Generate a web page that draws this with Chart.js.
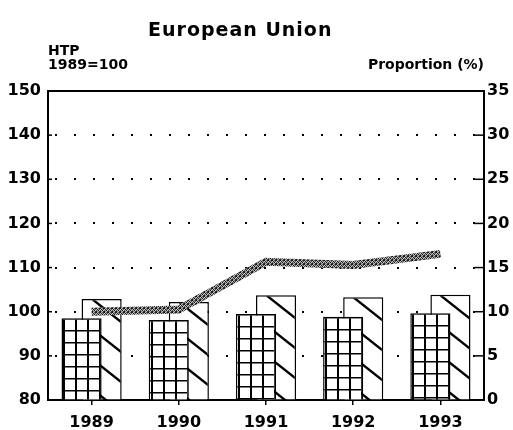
<!DOCTYPE html>
<html>
<head>
<meta charset="utf-8">
<script src="https://cdn.jsdelivr.net/npm/chart.js@4.4.1/dist/chart.umd.min.js"></script>
<style>
    html, body { margin: 0; padding: 0; background: #fff; }
    #wrap { width: 513px; height: 430px; }
</style>
</head>
<body>
<div id="wrap"><canvas id="chart" width="513" height="430"></canvas></div>
<script>
    const years = ['1989', '1990', '1991', '1992', '1993'];
    const htpIndex = [100, 100.5, 111.3, 110.6, 113.1];      // left axis, 1989=100
    const shareGrid = [9.25, 9.06, 9.74, 9.44, 9.82];        // right axis, %
    const shareHatched = [11.44, 11.1, 11.86, 11.63, 11.93]; // right axis, %

    const FONT = 'DejaVu Sans';

    // pattern tiles
    function gridTile() {
        const c = document.createElement('canvas');
        c.width = 12; c.height = 12;
        const g = c.getContext('2d');
        g.fillStyle = '#fff';
        g.fillRect(0, 0, 12, 12);
        g.fillStyle = '#000';
        g.fillRect(0, 0, 2, 12);
        g.fillRect(0, 0, 12, 1.5);
        return c;
    }

    function hatchTile() {
        const c = document.createElement('canvas');
        c.width = 38; c.height = 30;
        const g = c.getContext('2d');
        g.fillStyle = '#fff';
        g.fillRect(0, 0, 38, 30);
        g.strokeStyle = '#000';
        g.lineWidth = 2.4;
        [-30, 0, 30].forEach(dy => {
            g.beginPath();
            g.moveTo(0, dy);
            g.lineTo(38, 30 + dy);
            g.stroke();
        });
        return c;
    }

    function speckle() {
        const c = document.createElement('canvas');
        c.width = 4; c.height = 4;
        const g = c.getContext('2d');
        const cells = [
            '#111', '#bbb', '#666', '#222',
            '#ccc', '#222', '#999', '#555',
            '#555', '#aaa', '#111', '#ccc',
            '#222', '#777', '#bbb', '#333'
        ];
        cells.forEach((col, i) => {
            g.fillStyle = col;
            g.fillRect(i % 4, Math.floor(i / 4), 1, 1);
        });
        return g.createPattern(c, 'repeat');
    }

    const GRID_TILE = gridTile();
    const HATCH_TILE = hatchTile();

    // pattern anchored at the bar's top-left corner
    function barFill(tile, shift) {
        return ctx => {
            const chart = ctx.chart;
            const xs = chart.scales.x;
            const ys = chart.scales.y1;
            if (!xs || !ys || ctx.dataIndex === undefined) return '#fff';
            const xc = xs.getPixelForValue(ctx.dataIndex);
            const top = ys.getPixelForValue(ctx.raw);
            const slot = xs.width / years.length * 0.46 / 2;
            const left = xc + shift * slot - slot;
            const p = chart.ctx.createPattern(tile, 'repeat');
            p.setTransform(new DOMMatrix().translate(Math.round(left), Math.round(top)));
            return p;
        };
    }

    const textPlugin = {
        id: 'texts',
        afterDraw(chart) {
            const ctx = chart.ctx;
            const area = chart.chartArea;
            const yl = chart.scales.y;
            const yr = chart.scales.y1;
            ctx.save();
            // solid top frame
            ctx.strokeStyle = '#000';
            ctx.lineWidth = 2;
            ctx.beginPath();
            ctx.moveTo(area.left, area.top);
            ctx.lineTo(area.right, area.top);
            ctx.stroke();
            // inward tick marks
            ctx.lineWidth = 1.5;
            yl.ticks.forEach(t => {
                const y = yl.getPixelForValue(t.value);
                ctx.beginPath();
                ctx.moveTo(area.left, y);
                ctx.lineTo(area.left + 4, y);
                ctx.stroke();
            });
            yr.ticks.forEach(t => {
                const y = yr.getPixelForValue(t.value);
                ctx.beginPath();
                ctx.moveTo(area.right, y);
                ctx.lineTo(area.right - 10, y);
                ctx.stroke();
            });

            ctx.fillStyle = '#000';
            ctx.textBaseline = 'alphabetic';
            ctx.font = 'bold 19px ' + FONT;
            ctx.letterSpacing = '1px';
            ctx.textAlign = 'left';
            ctx.fillText('European Union', 148, 36);
            ctx.letterSpacing = '0px';
            ctx.font = 'bold 14px ' + FONT;
            ctx.fillText('HTP', area.left, 55);
            ctx.fillText('1989=100', area.left, 69);
            ctx.textAlign = 'right';
            ctx.fillText('Proportion (%)', area.right, 69);
            ctx.restore();
        }
    };

    const tickFont = {family: FONT, size: 16, weight: 'bold'};

    new Chart(document.getElementById('chart'), {
        type: 'bar',
        data: {
            labels: years,
            datasets: [
                {
                    type: 'line',
                    label: 'HTP',
                    data: htpIndex,
                    yAxisID: 'y',
                    order: 0,
                    borderColor: speckle(),
                    borderWidth: 8,
                    borderCapStyle: 'butt',
                    pointRadius: 0,
                    tension: 0,
                    fill: false
                },
                {
                    label: 'Share A',
                    data: shareGrid,
                    yAxisID: 'y1',
                    order: 1,
                    backgroundColor: barFill(GRID_TILE, -1),
                    borderColor: '#000',
                    borderWidth: 1.5,
                    categoryPercentage: 0.46,
                    barPercentage: 2
                },
                {
                    label: 'Share B',
                    data: shareHatched,
                    yAxisID: 'y1',
                    order: 2,
                    backgroundColor: barFill(HATCH_TILE, 1),
                    borderColor: '#000',
                    borderWidth: 1.5,
                    categoryPercentage: 0.46,
                    barPercentage: 2
                }
            ]
        },
        options: {
            responsive: false,
            animation: false,
            layout: {padding: {top: 91, left: 0, right: 0, bottom: 0}},
            plugins: {
                legend: {display: false},
                tooltip: {enabled: false},
                title: {display: false}
            },
            scales: {
                x: {
                    offset: true,
                    afterFit(scale) { scale.height = 30; },
                    grid: {
                        offset: false,
                        drawOnChartArea: false,
                        drawTicks: true,
                        tickLength: 5,
                        color: '#000',
                        lineWidth: 1.5
                    },
                    border: {color: '#000', width: 2},
                    ticks: {color: '#000', font: tickFont, padding: 8, maxRotation: 0}
                },
                y: {
                    position: 'left',
                    min: 80,
                    max: 150,
                    afterFit(scale) { scale.width = 48; },
                    grid: {
                        drawTicks: false,
                        lineWidth: 2,
                        color: ctx => (ctx.tick && (ctx.tick.value === 80 || ctx.tick.value === 150)) ? 'rgba(0,0,0,0)' : '#000'
                    },
                    border: {color: '#000', width: 2, dash: [2, 17], dashOffset: -6},
                    ticks: {stepSize: 10, color: '#000', font: tickFont, padding: 7}
                },
                y1: {
                    position: 'right',
                    min: 0,
                    max: 35,
                    afterFit(scale) { scale.width = 29; },
                    grid: {drawOnChartArea: false, drawTicks: false},
                    border: {color: '#000', width: 2},
                    ticks: {stepSize: 5, color: '#000', font: tickFont, padding: 3}
                }
            }
        },
        plugins: [textPlugin]
    });
</script>
</body>
</html>
